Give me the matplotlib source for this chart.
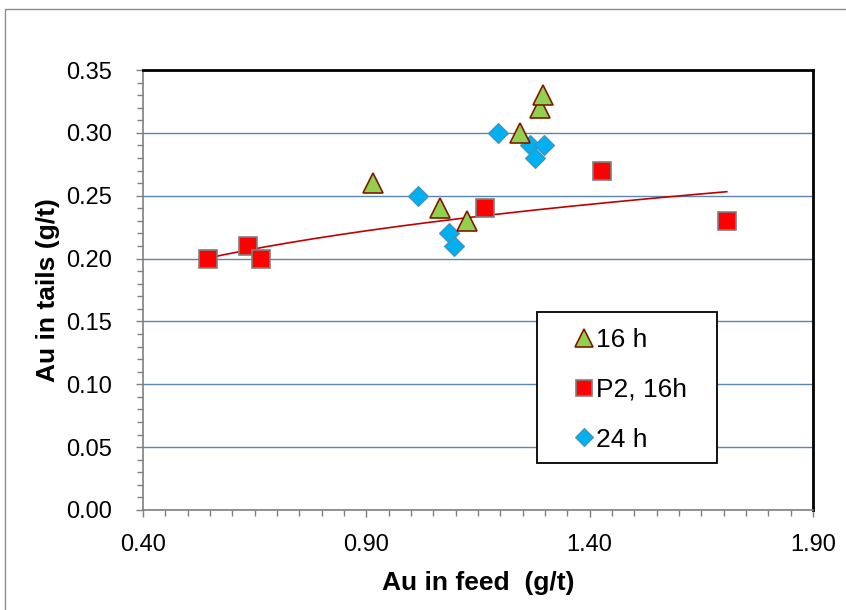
import matplotlib.pyplot as plt
import numpy as np
from matplotlib.patches import Rectangle
from matplotlib.ticker import MultipleLocator

plt.rcParams['font.family'] = ['Liberation Sans', 'DejaVu Sans']

# 16 h
x16 = [0.915, 1.065, 1.125, 1.244, 1.289, 1.295]
y16 = [0.26, 0.24, 0.23, 0.30, 0.32, 0.33]
# P2, 16h
xp2 = [0.545, 0.635, 0.664, 1.166, 1.428, 1.707]
yp2 = [0.20, 0.21, 0.20, 0.24, 0.27, 0.23]
# 24 h
x24 = [1.016, 1.085, 1.096, 1.195, 1.266, 1.278, 1.298]
y24 = [0.25, 0.22, 0.21, 0.30, 0.29, 0.28, 0.29]

xticks = [0.40, 0.90, 1.40, 1.90]
yticks = [0.00, 0.05, 0.10, 0.15, 0.20, 0.25, 0.30, 0.35]

fig = plt.figure(figsize=(8.46, 6.10), dpi=100)
ax = fig.add_axes([143/846, 1 - 510/610, 670/846, 440/610])

# outer chart border
fig.patches.append(Rectangle((5/846, -0.01), 1.0, 1 - 9/610 + 0.01,
                             transform=fig.transFigure, fill=False,
                             edgecolor='#8c8c8c', linewidth=1))

# power trend line on P2 data
b, lna = np.polyfit(np.log(xp2), np.log(yp2), 1)
xt = np.linspace(min(xp2), max(xp2), 200)
ax.plot(xt, np.exp(lna) * xt ** b, color='#c00000', linewidth=1.2, zorder=2)

ax.plot(x24, y24, linestyle='none', marker='D', markersize=10.5,
        markerfacecolor='#00b0f0', markeredgecolor='#4a8fb5', markeredgewidth=0.8,
        label='24 h', zorder=3)
ax.plot(x16, y16, linestyle='none', marker='^', markersize=14,
        markerfacecolor='#92d050', markeredgecolor='#7f1a00', markeredgewidth=1.2,
        label='16 h', zorder=4)
ax.plot(xp2, yp2, linestyle='none', marker='s', markersize=13,
        markerfacecolor='#ff0000', markeredgecolor='#7f7f7f', markeredgewidth=1.2,
        label='P2, 16h', zorder=5)

ax.set_xlim(0.40, 1.90)
ax.set_ylim(0.0, 0.35)
ax.set_xticks(xticks)
ax.set_yticks(yticks)
ax.xaxis.set_minor_locator(MultipleLocator(0.05))
ax.yaxis.set_minor_locator(MultipleLocator(0.01))
ax.set_xticklabels([f'{v:.2f}' for v in xticks], fontsize=17)
ax.set_yticklabels([f'{v:.2f}' for v in yticks], fontsize=17)
ax.tick_params(which='both', direction='out', color='#7f7f7f', width=1)
ax.tick_params(which='major', length=5)
ax.tick_params(which='minor', length=4)
ax.tick_params(axis='x', which='major', pad=12)
ax.tick_params(axis='y', which='major', pad=17)
ax.yaxis.grid(True, which='major', color='#5b86b0', linewidth=1)
ax.set_axisbelow(True)

for s in ['top', 'right']:
    ax.spines[s].set_color('black')
    ax.spines[s].set_linewidth(2)
for s in ['left', 'bottom']:
    ax.spines[s].set_color('#7f7f7f')
    ax.spines[s].set_linewidth(1.2)

ax.set_xlabel('Au in feed  (g/t)', fontsize=19, fontweight='bold')
ax.set_ylabel('Au in tails (g/t)', fontsize=19, fontweight='bold')
ax.xaxis.set_label_coords(0.5, -(571 - 510) / 440, transform=ax.transAxes)
ax.yaxis.set_label_coords(-(143 - 60) / 670, 0.5, transform=ax.transAxes)

# legend box
ax.add_patch(Rectangle(((537 - 143) / 670, (510 - 463) / 440), 180 / 670, 151 / 440,
                       transform=ax.transAxes, facecolor='white', edgecolor='black',
                       linewidth=1.3, zorder=6, clip_on=False))
h, l = ax.get_legend_handles_labels()
order = [1, 2, 0]
leg = ax.legend([h[i] for i in order], [l[i] for i in order],
                loc='upper left', bbox_to_anchor=((573 - 143) / 670, (510 - 328) / 440),
                fontsize=19, frameon=False, handlelength=0.8,
                handletextpad=0.08, labelspacing=0.98, borderpad=0,
                borderaxespad=0, markerscale=0.9)
leg.set_zorder(7)

fig.savefig('out.png', dpi=100)
